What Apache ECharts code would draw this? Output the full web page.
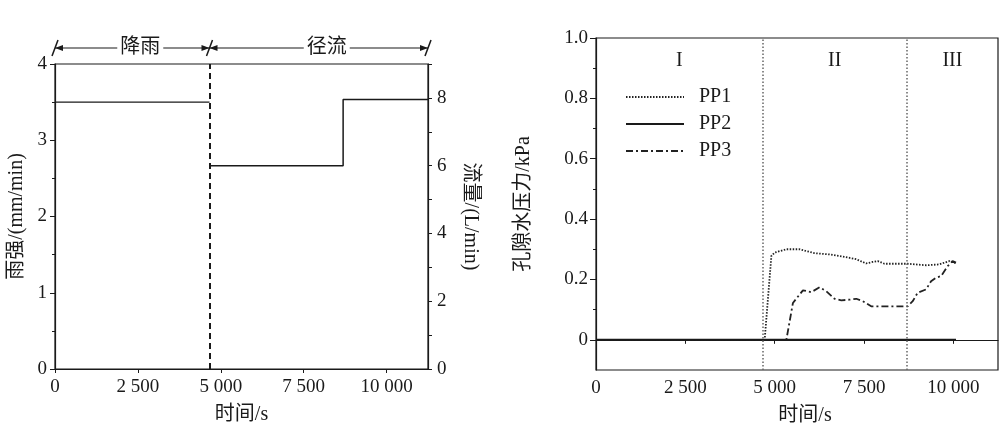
<!DOCTYPE html>
<html><head><meta charset="utf-8">
<script src="https://cdn.jsdelivr.net/npm/echarts@6/dist/echarts.min.js"></script>
<style>html,body{margin:0;padding:0;background:#fff}#c{width:1000px;height:431px}</style>
</head><body><div id="c"></div>
<script>
// ---- data ----
const timeMin = 0, timeMax = 11250;
const timeTicks = [0, 2500, 5000, 7500, 10000];
const rainTicks = [0, 1, 2, 3, 4];
const flowTicks = [0, 2, 4, 6, 8];
const ppTicks = [0, 0.2, 0.4, 0.6, 0.8, 1.0];
const ppMinorTicks = [0.1, 0.3, 0.5, 0.7, 0.9];

const rainT = [0, 4660];
const rainV = [3.5, 3.5];
const flowT = [4660, 8690, 8690, 11250];
const flowV = [6.0, 6.0, 7.95, 7.95];
const rainEnd = 4660;
const segNames = ['降雨', '径流'];

const phaseBounds = [4660, 8700];
const phaseNames = ['I', 'II', 'III'];
const seriesNames = ['PP1', 'PP2', 'PP3'];

const pp1T = [0, 4720, 4908, 5000, 5327, 5698, 5885, 6117, 6536, 6908, 7282, 7561, 7746, 7885, 8073, 8723, 9237, 9609, 9888, 9980, 10075];
const pp1V = [0, 0, 0.278, 0.289, 0.300, 0.300, 0.294, 0.287, 0.283, 0.276, 0.267, 0.253, 0.258, 0.261, 0.252, 0.252, 0.247, 0.250, 0.261, 0.258, 0.253];
const pp2T = [0, 10075];
const pp2V = [0, 0];
const pp3T = [0, 5327, 5511, 5791, 6025, 6257, 6444, 6676, 6863, 7095, 7282, 7466, 7701, 8723, 8863, 9003, 9237, 9377, 9517, 9656, 9842, 9980, 10075];
const pp3V = [0, 0, 0.122, 0.164, 0.158, 0.174, 0.161, 0.136, 0.131, 0.133, 0.136, 0.128, 0.111, 0.111, 0.128, 0.156, 0.167, 0.194, 0.206, 0.211, 0.244, 0.261, 0.256];

// ---- helpers ----
const zip = (a, b) => a.map((t, i) => [t, b[i]]);
const FONT = "'Liberation Serif', 'Noto Sans CJK SC', serif";
const INK = '#1a1a1a';
const fmtTime = v => String(Math.round(v)).replace(/\B(?=(\d{3})+(?!\d))/g, ' ');
const fmtPP = v => { const k = Math.round(v * 10); return k === 0 ? '0' : (k / 10).toFixed(1); };
const lbl = { color: INK, fontSize: 19, fontFamily: FONT };
const nameStyle = { color: INK, fontSize: 20, fontFamily: FONT };
const axLine = { show: true, lineStyle: { color: INK, width: 1.2 } };

const chart = echarts.init(document.getElementById('c'), null, { renderer: 'canvas' });

const option = {
  animation: false,
  backgroundColor: '#fff',
  grid: [
    { left: 55, right: 572, top: 64, bottom: 62, show: true, borderColor: INK, borderWidth: 1.2 },
    { left: 596, right: 2, top: 38, bottom: 60, show: true, borderColor: INK, borderWidth: 1.2 }
  ],
  legend: {
    data: seriesNames, orient: 'vertical', left: 620, top: 82,
    itemWidth: 58, itemHeight: 14, itemGap: 7,
    itemStyle: { opacity: 0 },
    textStyle: { color: INK, fontSize: 20, fontFamily: FONT, padding: [0, 0, 0, 10] }
  },
  xAxis: [
    { gridIndex: 0, type: 'value', min: timeMin, max: timeMax,
      axisLine: axLine, splitLine: { show: false },
      axisTick: { customValues: timeTicks, length: 4, lineStyle: { color: INK } },
      axisLabel: Object.assign({ customValues: timeTicks, formatter: fmtTime, margin: 9 }, lbl),
      name: '时间/s', nameLocation: 'middle', nameGap: 36, nameTextStyle: nameStyle },
    { gridIndex: 1, type: 'value', min: timeMin, max: timeMax,
      axisLine: axLine, splitLine: { show: false },
      axisTick: { customValues: timeTicks, length: 4, lineStyle: { color: INK } },
      axisLabel: Object.assign({ customValues: timeTicks, formatter: fmtTime, margin: 9 }, lbl),
      name: '时间/s', nameLocation: 'middle', nameGap: 36, nameTextStyle: Object.assign({ padding: [0, 0, 0, 16] }, nameStyle) }
  ],
  yAxis: [
    { gridIndex: 0, type: 'value', min: 0, max: 4, interval: 1,
      axisLine: axLine, splitLine: { show: false },
      axisTick: { length: 5, lineStyle: { color: INK } },
      minorTick: { show: true, splitNumber: 2, length: 3, lineStyle: { color: INK } },
      axisLabel: Object.assign({ margin: 8 }, lbl),
      name: '雨强/(mm/min)', nameLocation: 'middle', nameGap: 28, nameRotate: 90, nameTextStyle: nameStyle },
    { gridIndex: 0, type: 'value', position: 'right', min: 0, max: 9, interval: 1,
      axisLine: axLine, splitLine: { show: false },
      axisTick: { length: 4, lineStyle: { color: INK } },
      axisLabel: Object.assign({ customValues: flowTicks, margin: 9 }, lbl),
      name: '流量/(L/min)', nameLocation: 'middle', nameGap: 32, nameRotate: -90, nameTextStyle: nameStyle },
    { gridIndex: 1, type: 'value', position: 'left', min: -0.1, max: 1.0,
      axisLine: axLine, splitLine: { show: false },
      axisTick: { customValues: ppTicks, length: 6, lineStyle: { color: INK } },
      axisLabel: Object.assign({ customValues: ppTicks, formatter: fmtPP, margin: 8 }, lbl),
      name: '孔隙水压力/kPa', nameLocation: 'middle', nameGap: 62, nameRotate: 90, nameTextStyle: nameStyle },
    { gridIndex: 1, type: 'value', position: 'left', min: -0.1, max: 1.0,
      axisLine: { show: false }, splitLine: { show: false },
      axisTick: { customValues: ppMinorTicks, length: 3, lineStyle: { color: INK } },
      axisLabel: { show: false } }
  ],
  series: [
    { name: 'rain', type: 'line', xAxisIndex: 0, yAxisIndex: 0, symbol: 'none',
      data: zip(rainT, rainV), lineStyle: { color: INK, width: 1.2 },
      markLine: { symbol: 'none', silent: true, label: { show: false },
        lineStyle: { color: INK, width: 2, type: [6, 4] },
        data: [{ xAxis: rainEnd }] } },
    { name: 'flow', type: 'line', xAxisIndex: 0, yAxisIndex: 1, symbol: 'none',
      data: zip(flowT, flowV), lineStyle: { color: INK, width: 1.5 } },
    { name: seriesNames[0], type: 'line', xAxisIndex: 1, yAxisIndex: 2, symbol: 'none', z: 2,
      data: zip(pp1T, pp1V), itemStyle: { color: '#222' },
      lineStyle: { color: '#222', width: 1.8, type: [1.5, 1.5] } },
    { name: seriesNames[1], type: 'line', xAxisIndex: 1, yAxisIndex: 2, symbol: 'none', z: 4,
      data: zip(pp2T, pp2V), itemStyle: { color: INK },
      lineStyle: { color: INK, width: 2 },
      markLine: { symbol: 'none', silent: true, label: { show: false },
        lineStyle: { color: '#666', width: 1.5, type: [1.5, 2] },
        data: phaseBounds.map(b => ({ xAxis: b })) },
      markArea: { silent: true, itemStyle: { color: 'rgba(0,0,0,0)' },
        label: { show: true, position: 'insideTop', distance: 13, color: INK, fontSize: 20, fontFamily: FONT },
        data: phaseNames.map((n, i) => {
          const edges = [timeMin].concat(phaseBounds, [timeMax]);
          return [{ name: n, xAxis: edges[i] }, { xAxis: edges[i + 1] }];
        }) } },
    { name: seriesNames[2], type: 'line', xAxisIndex: 1, yAxisIndex: 2, symbol: 'none', z: 3,
      data: zip(pp3T, pp3V), itemStyle: { color: '#222' },
      lineStyle: { color: '#222', width: 1.8, type: [7, 3, 2, 3] } }
  ]
};
chart.setOption(option);

// ---- dimension annotation above the left chart (positions from the axes) ----
const xs = [timeMin, rainEnd, timeMax].map(t => chart.convertToPixel({ xAxisIndex: 0 }, t));
const yTop = chart.convertToPixel({ yAxisIndex: 0 }, 4);
const ay = yTop - 16;
const g = [];
g.push({ type: 'line', shape: { x1: xs[0], y1: ay, x2: xs[2], y2: ay }, style: { stroke: INK, lineWidth: 1.2 } });
xs.forEach(x => g.push({ type: 'line', shape: { x1: x - 3, y1: ay + 8, x2: x + 3, y2: ay - 8 }, style: { stroke: INK, lineWidth: 1.5 } }));
const arrow = (x, dir) => ({ type: 'polygon', shape: { points: [[x, ay], [x + dir * 8, ay - 3], [x + dir * 8, ay + 3]] }, style: { fill: INK } });
g.push(arrow(xs[0], 1), arrow(xs[1], -1), arrow(xs[1], 1), arrow(xs[2], -1));
segNames.forEach((s, i) => {
  g.push({ type: 'text', z: 10, x: (xs[i] + xs[i + 1]) / 2 + 8, y: ay,
    style: { text: s, align: 'center', verticalAlign: 'middle', fill: INK, font: "20px 'Liberation Serif', 'Noto Sans CJK SC', serif",
      backgroundColor: '#fff', padding: [0, 3] } });
});
chart.setOption({ graphic: g });
</script>
</body></html>
